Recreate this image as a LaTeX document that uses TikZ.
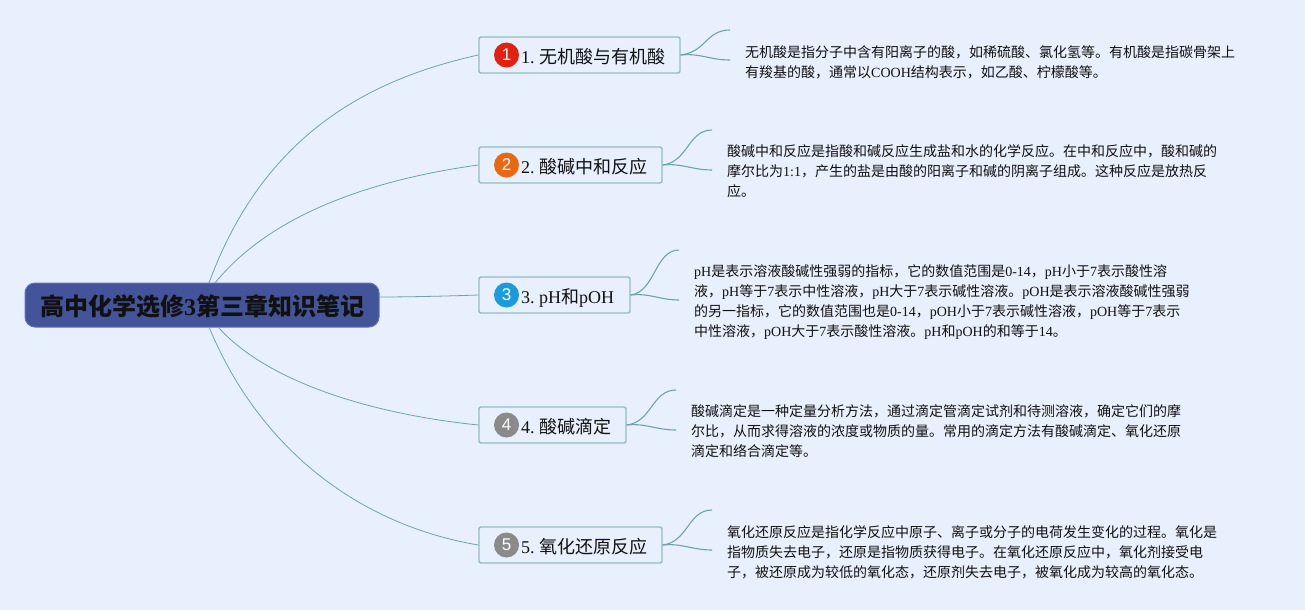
\documentclass[tikz,border=0pt]{standalone}
\usepackage{fontspec}
\setmainfont{Noto Sans CJK SC}
\newfontfamily\latfont{Liberation Serif}
\newfontfamily\iconfont{Liberation Sans}
\newcommand{\lat}[1]{{\latfont #1}}
\newcommand{\branchtext}[1]{\hspace*{42pt}#1}
\definecolor{bgc}{HTML}{E8F0FD}
\definecolor{linec}{HTML}{6FA3AB}
\definecolor{boxc}{HTML}{95BCC4}
\definecolor{rootc}{HTML}{43549A}
\definecolor{rootb}{HTML}{6272B4}
\definecolor{txtc}{HTML}{111111}
\definecolor{ic1}{HTML}{E0220F}
\definecolor{ic2}{HTML}{E86914}
\definecolor{ic3}{HTML}{1C9BDC}
\definecolor{ic4}{HTML}{8A8A8A}
\tikzset{
  rootbox/.style={draw=rootb,line width=1pt,fill=rootc,rounded corners=10pt,minimum width=354pt,minimum height=44pt,inner sep=0pt,text=txtc,font=\fontsize{24}{28}\selectfont\bfseries,align=center,text height=23pt,text depth=1.8pt},
  branchbox/.style={draw=boxc,line width=1.4pt,fill=bgc,rounded corners=2pt,minimum height=36pt,inner sep=0pt,text=txtc,align=left,font=\fontsize{18}{22}\selectfont,text height=17.6pt,text depth=1pt},
  iconc/.style={circle,fill=#1,minimum size=25pt,inner sep=0pt,text=white,font=\iconfont\fontsize{17}{17}\selectfont},
  notes/.style={anchor=west,inner sep=0pt,text=txtc,align=left,font=\fontsize{14}{20}\selectfont},
  mainlink/.style={draw=linec,line width=0.8pt},
  sublink/.style={draw=linec,line width=1.1pt},
}
\begin{document}
\begin{tikzpicture}[x=1pt,y=-1pt]
\useasboundingbox (0,0) rectangle (1305,610);
\fill[bgc] (0,0) rectangle (1305,610);
% nodes
\node[rootbox] (root) at (202,305) {高中化学选修\lat{\bfseries 3}第三章知识笔记};
\node[branchbox,text width=201pt] (b1) at (579.5,55) {\branchtext{\lat{1.}\kern4.5pt 无机酸与有机酸}};
\node[branchbox,text width=183pt] (b2) at (570.5,165) {\branchtext{\lat{2.}\kern4.5pt 酸碱中和反应}};
\node[branchbox,text width=151pt] (b3) at (554.5,295) {\branchtext{\lat{3.}\kern4.5pt\lat{pH}和\lat{pOH}}};
\node[branchbox,text width=147pt] (b4) at (552.5,425) {\branchtext{\lat{4.}\kern4.5pt 酸碱滴定}};
\node[branchbox,text width=183pt] (b5) at (570.5,545) {\branchtext{\lat{5.}\kern4.5pt 氧化还原反应}};
\node[iconc=ic1] (i1) at (506.5,55) {1};
\node[iconc=ic2] (i2) at (506.5,165) {2};
\node[iconc=ic3] (i3) at (506.5,295) {3};
\node[iconc=ic4] (i4) at (506.5,425) {4};
\node[iconc=ic4] (i5) at (506.5,545) {5};
\node[notes] (n1) at (745,62) {无机酸是指分子中含有阳离子的酸，如稀硫酸、氯化氢等。有机酸是指碳骨架上\\有羧基的酸，通常以\lat{COOH}结构表示，如乙酸、柠檬酸等。};
\node[notes] (n2) at (727,171.5) {酸碱中和反应是指酸和碱反应生成盐和水的化学反应。在中和反应中，酸和碱的\\摩尔比为\lat{1:1}，产生的盐是由酸的阳离子和碱的阴离子组成。这种反应是放热反\\应。};
\node[notes] (n3) at (694,302.5) {\lat{pH}是表示溶液酸碱性强弱的指标，它的数值范围是\lat{0-14}，\lat{pH}小于\lat{7}表示酸性溶\\液，\lat{pH}等于\lat{7}表示中性溶液，\lat{pH}大于\lat{7}表示碱性溶液。\lat{pOH}是表示溶液酸碱性强弱\\的另一指标，它的数值范围也是\lat{0-14}，\lat{pOH}小于\lat{7}表示碱性溶液，\lat{pOH}等于\lat{7}表示\\中性溶液，\lat{pOH}大于\lat{7}表示酸性溶液。\lat{pH}和\lat{pOH}的和等于\lat{14}。};
\node[notes] (n4) at (691,431.5) {酸碱滴定是一种定量分析方法，通过滴定管滴定试剂和待测溶液，确定它们的摩\\尔比，从而求得溶液的浓度或物质的量。常用的滴定方法有酸碱滴定、氧化还原\\滴定和络合滴定等。};
\node[notes] (n5) at (727,552) {氧化还原反应是指化学反应中原子、离子或分子的电荷发生变化的过程。氧化是\\指物质失去电子，还原是指物质获得电子。在氧化还原反应中，氧化剂接受电\\子，被还原成为较低的氧化态，还原剂失去电子，被氧化成为较高的氧化态。};
% free ends
\coordinate (r1) at (209,283);
\coordinate (r2) at (215,283);
\coordinate (r3) at (379,297);
\coordinate (r4) at (218,327);
\coordinate (r5) at (209,327);
\coordinate (u1) at (730,30); \coordinate (l1) at (730,60);
\coordinate (u2) at (712,130); \coordinate (l2) at (712,170);
\coordinate (u3) at (679,250); \coordinate (l3) at (679,300);
\coordinate (u4) at (676,390); \coordinate (l4) at (676,430);
\coordinate (u5) at (712,510); \coordinate (l5) at (712,550);
% main links
\draw[mainlink] (r1) .. controls (265,130) and (375,78) .. (b1.west);
\draw[mainlink] (r2) .. controls (270,215) and (370,180) .. (b2.west);
\draw[mainlink] (r3) .. controls (410,297) and (450,296) .. (b3.west);
\draw[mainlink] (r4) .. controls (270,385) and (380,415) .. (b4.west);
\draw[mainlink] (r5) .. controls (260,450) and (360,525) .. (b5.west);
% sub links
\draw[sublink] (b1.east) .. controls (706,52) and (706,30) .. (u1);
\draw[sublink] (b1.east) .. controls (700,53) and (710,60) .. (l1);
\draw[sublink] (b2.east) .. controls (688,162) and (688,130) .. (u2);
\draw[sublink] (b2.east) .. controls (682,163) and (692,170) .. (l2);
\draw[sublink] (b3.east) .. controls (655,292) and (655,250) .. (u3);
\draw[sublink] (b3.east) .. controls (650,293) and (660,300) .. (l3);
\draw[sublink] (b4.east) .. controls (652,422) and (652,390) .. (u4);
\draw[sublink] (b4.east) .. controls (646,423) and (656,430) .. (l4);
\draw[sublink] (b5.east) .. controls (688,542) and (688,510) .. (u5);
\draw[sublink] (b5.east) .. controls (682,543) and (692,550) .. (l5);
\end{tikzpicture}
\end{document}
